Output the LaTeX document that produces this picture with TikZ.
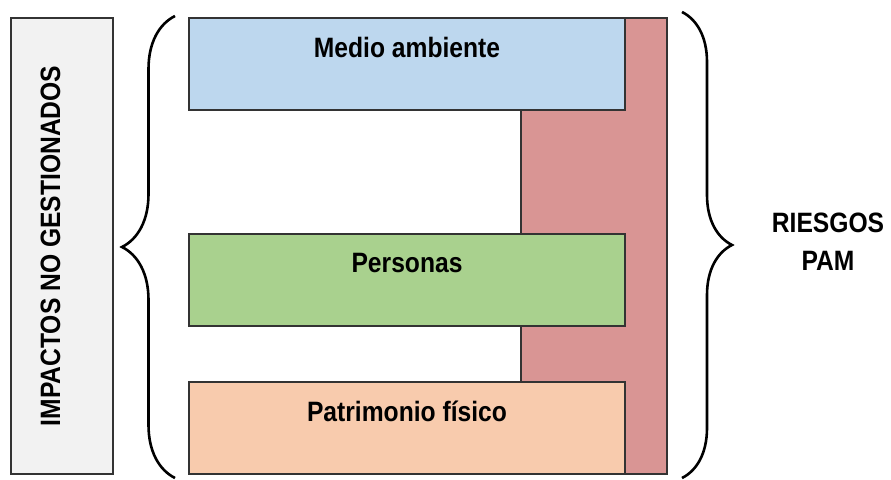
\documentclass[tikz,border=0pt]{standalone}
\usepackage{fontspec}
\setmainfont{Liberation Sans}[FakeStretch=0.88]
\usepackage{xcolor}
\usetikzlibrary{positioning, decorations.pathreplacing, calc}

\definecolor{cielo}{HTML}{BDD7EE}
\definecolor{pasto}{HTML}{A9D18E}
\definecolor{durazno}{HTML}{F8CBAD}
\definecolor{rojo}{HTML}{D99594}
\definecolor{gris}{HTML}{F2F2F2}

\begin{document}
\begin{tikzpicture}[x=1pt, y=1pt,
    box/.style = {rectangle, draw=black!80, line width=1.2pt,
      minimum width=436pt, minimum height=92pt, outer sep=0pt,
      inner sep=0pt, anchor=south west}, % colored boxes
    lbl/.style = {font=\fontsize{28}{34}\selectfont\bfseries,
      inner sep=0pt, anchor=base}, % texts
    B/.style = {decorate, decoration={brace, amplitude=#1},
      line width=2.6pt}, % braces
    B/.default = 50pt,
  ]
  \useasboundingbox (0,0) rectangle (891,479);

  % background boxes
  \node[box, fill=gris, minimum width=102pt, minimum height=456pt]
    (impactos) at (11,5) {};
  \node[box, fill=rojo, minimum width=146pt, minimum height=456pt]
    (riesgo) at (521,5) {};

  % colored boxes
  \node[box, fill=cielo] (medio) at (189,369) {};
  \node[box, fill=pasto] (personas) at (189,153) {};
  \node[box, fill=durazno] (patrimonio) at (189,5) {};

  \node[lbl] (medio-t) at ([yshift=-40pt]medio.north) {Medio ambiente};
  \node[lbl] (personas-t) at ([yshift=-39pt]personas.north) {Personas};
  \node[lbl] (patrimonio-t) at ([yshift=-40pt]patrimonio.north)
    {Patrimonio físico};

  \node[lbl, rotate=90] (impactos-t) at ([xshift=-2pt]impactos.center)
    {IMPACTOS NO GESTIONADOS};

  % braces
  \coordinate (lb-a) at ([xshift=-14pt, yshift=-4pt]patrimonio.south west);
  \coordinate (lb-b) at ([xshift=-14pt, yshift=2pt]medio.north west);
  \coordinate (rb-a) at ([xshift=15pt, yshift=6pt]riesgo.north east);
  \coordinate (rb-b) at ([xshift=15pt, yshift=-4pt]riesgo.south east);
  \draw[B=53pt] (lb-a) -- (lb-b);
  \draw[B] (rb-a) -- (rb-b);

  \node[lbl] (riesgos-t) at (828,246) {RIESGOS};
  \node[lbl, below=38pt of riesgos-t.base, anchor=base] (pam-t) {PAM};
\end{tikzpicture}
\end{document}
